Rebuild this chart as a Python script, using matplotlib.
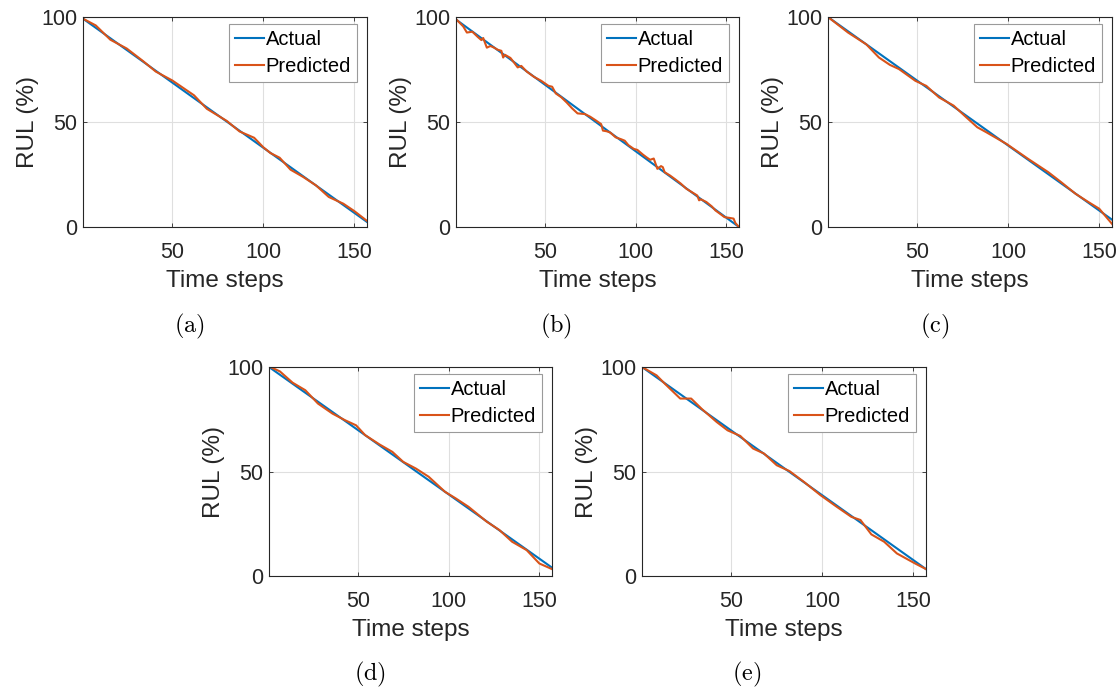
"""RUL prediction curves for the five test cells"""
import matplotlib
matplotlib.use('Agg')
import matplotlib.pyplot as plt

plt.rcParams['font.family'] = ['Liberation Sans', 'DejaVu Sans']
plt.rcParams['mathtext.fontset'] = 'cm'

BLUE = '#0072BD'
ORANGE = '#D95319'
DARK = '#262626'

# actual RUL (straight decline) per cell: start/end points
act_x_a = [1, 157]
act_y_a = [99.2, 2.4]
act_x_b = [1, 157]
act_y_b = [98.8, 0.0]
act_x_c = [1, 157]
act_y_c = [100.0, 3.5]
act_x_d = [1, 157]
act_y_d = [100.0, 4.0]
act_x_e = [1, 157]
act_y_e = [100.0, 3.3]

# predicted RUL
pred_x_a = [1, 8, 16, 25, 34, 41, 50, 62, 69, 80, 87, 95, 100, 104, 109, 115, 122, 129, 136, 144, 150, 157]
pred_y_a = [99.2, 96.0, 89.2, 85.0, 79.0, 74.0, 69.8, 62.7, 56.3, 50.5, 45.5, 42.5, 38.0, 35.2, 33.0, 27.3,
            23.8, 19.8, 14.3, 11.1, 7.6, 2.9]

pred_x_b = [1, 5, 7, 10, 13, 15, 16, 18, 20, 22, 24, 26, 27, 28, 31, 33, 35, 37, 40, 44, 48, 52, 54, 56,
            59, 62, 65, 68, 72, 75, 78, 81, 82, 84, 86, 89, 92, 94, 96, 99, 101, 104, 106, 108, 110, 112,
            114, 115, 116, 119, 122, 125, 128, 131, 134, 135, 136, 139, 142, 144, 147, 149, 152, 154, 155, 157]
pred_y_b = [99.0, 95.5, 92.6, 93.0, 90.5, 89.0, 90.0, 85.4, 86.2, 85.4, 84.4, 83.9, 80.7, 82.0, 80.5, 78.3,
            76.0, 76.7, 74.0, 71.5, 69.6, 67.2, 66.8, 63.6, 61.8, 59.3, 56.5, 54.1, 53.8, 52.5, 50.8, 49.0,
            45.9, 45.6, 45.0, 42.7, 41.8, 41.1, 39.0, 37.2, 36.7, 34.5, 33.2, 32.0, 32.6, 27.7, 29.0, 28.5,
            26.1, 24.5, 22.6, 20.6, 18.2, 16.6, 15.0, 12.7, 13.2, 11.9, 9.8, 7.9, 6.0, 4.7, 4.3, 4.0, 1.9, 0.0]

pred_x_c = [1, 12, 22, 29, 35, 40, 49, 55, 62, 70, 77, 83, 88, 99, 111, 122, 129, 137, 144, 150, 157]
pred_y_c = [100.0, 92.6, 87.0, 80.7, 77.2, 75.2, 69.6, 67.2, 61.7, 57.8, 52.2, 47.5, 45.1, 39.6, 32.4,
            26.1, 21.4, 15.8, 11.9, 8.7, 1.5]

pred_x_d = [1, 7, 14, 21, 28, 36, 43, 49, 54, 62, 69, 75, 82, 89, 98, 104, 111, 121, 128, 135, 143, 150, 157]
pred_y_d = [100.3, 97.9, 92.5, 88.9, 82.5, 77.7, 74.5, 72.1, 67.4, 62.9, 59.4, 54.6, 51.4, 47.5, 40.3,
            37.1, 33.1, 26.0, 22.0, 16.4, 12.4, 6.0, 3.3]

pred_x_e = [1, 9, 14, 22, 25, 28, 34, 42, 48, 55, 62, 68, 75, 82, 90, 99, 108, 116, 121, 127, 134, 141, 151, 157]
pred_y_e = [100.0, 96.0, 91.6, 84.9, 84.9, 84.9, 79.8, 73.7, 69.7, 67.0, 61.0, 58.6, 53.0, 50.2, 45.0,
            38.7, 33.1, 28.3, 26.8, 19.9, 16.4, 10.8, 6.0, 3.3]

panels = [
    ('(a)', act_x_a, act_y_a, pred_x_a, pred_y_a),
    ('(b)', act_x_b, act_y_b, pred_x_b, pred_y_b),
    ('(c)', act_x_c, act_y_c, pred_x_c, pred_y_c),
    ('(d)', act_x_d, act_y_d, pred_x_d, pred_y_d),
    ('(e)', act_x_e, act_y_e, pred_x_e, pred_y_e),
]

W, H = 1120, 690
# axes boxes in pixels: left, top, right, bottom
boxes = [(83, 17, 367, 227), (456, 17, 739, 227), (828, 17, 1112, 227),
         (269, 367, 552, 576), (642, 367, 926, 576)]
captions = [(189, 326), (556, 326), (935, 326), (370, 674), (747, 674)]

fig = plt.figure(figsize=(W / 100, H / 100), dpi=100)

for (tag, ax_x, ax_y, px, py), (l, t, r, b), (cx, cy) in zip(panels, boxes, captions):
    ax = fig.add_axes([l / W, 1 - b / H, (r - l) / W, (b - t) / H])
    ax.plot(ax_x, ax_y, color=BLUE, lw=1.5, label='Actual')
    ax.plot(px, py, color=ORANGE, lw=1.5, label='Predicted')
    ax.set_xlim(1, 157)
    ax.set_ylim(0, 100)
    ax.set_xticks([50, 100, 150])
    ax.set_yticks([0, 50, 100])
    ax.grid(True, color='#dfdfdf', lw=0.8)
    ax.set_axisbelow(True)
    ax.tick_params(direction='in', length=3, width=0.6, top=True, right=True,
                   labelsize=15.5, colors=DARK, pad=4)
    ax.tick_params(axis='x', pad=11)
    for sp in ax.spines.values():
        sp.set_color(DARK)
        sp.set_linewidth(0.8)
    ax.set_xlabel('Time steps', fontsize=17.5, color=DARK, labelpad=5)
    ax.set_ylabel('RUL (%)', fontsize=17.5, color=DARK, labelpad=2)
    leg = ax.legend(loc='upper right', bbox_to_anchor=(1 - 10 / (r - l), 1 - 7 / (b - t)),
                    borderaxespad=0, fontsize=14.5, handlelength=1.45, handletextpad=0.08,
                    labelspacing=0.4, borderpad=0.3, fancybox=False, framealpha=1)
    leg.get_frame().set_edgecolor('#9a9a9a')
    leg.get_frame().set_linewidth(0.8)
    fig.text(cx / W, 1 - cy / H, r'$\mathrm{' + tag + '}$', fontsize=17.5,
             ha='center', va='center', color='black')

fig.savefig('out.png', dpi=100)
